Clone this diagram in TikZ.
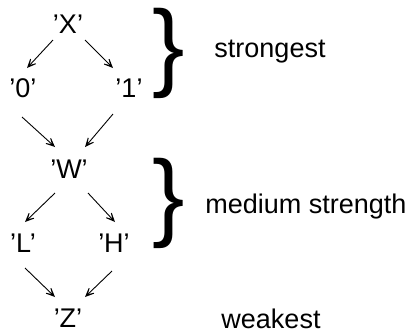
\documentclass[tikz,border=0pt]{standalone}
\usepackage{fontspec}
\setmainfont{Liberation Sans}
\usetikzlibrary{arrows.meta}
\begin{document}
\begin{tikzpicture}[x=1pt,y=-1pt,
  lbl/.style={inner sep=0pt,font=\fontsize{27}{31}\selectfont,anchor=base},
  arr/.style={line width=0.9pt,-{Stealth[open,length=16pt,width=14pt,inset=12pt]}},
  curly/.style={inner sep=0pt,anchor=base west,font=\fontsize{97}{97}\selectfont}]
\useasboundingbox (0,0) rectangle (412,333);
\node[lbl] (X) at (68,33) {’X’};
\node[lbl] (n0) at (23,97) {’0’};
\node[lbl] (n1) at (129,97) {’1’};
\node[lbl] (W) at (69,178) {’W’};
\node[lbl] (L) at (23,252) {’L’};
\node[lbl] (H) at (114,252) {’H’};
\node[lbl] (Z) at (68,327) {’Z’};
\node[lbl] (s) at (270,57) {strongest};
\node[lbl] (m) at (306,213) {medium strength};
\node[lbl] (w) at (271,328) {weakest};
\draw[arr] ([shift={(-15,7)}]X.base) -- ([shift={(4,-29)}]n0.base);
\draw[arr] ([shift={(17,7)}]X.base) -- ([shift={(-16,-29)}]n1.base);
\draw[arr] ([shift={(-1,20)}]n0.base) -- ([shift={(-14,-31)}]W.base);
\draw[arr] ([shift={(-16,17)}]n1.base) -- ([shift={(16,-31)}]W.base);
\draw[arr] ([shift={(-14,15)}]W.base) -- ([shift={(2,-30)}]L.base);
\draw[arr] ([shift={(19,15)}]W.base) -- ([shift={(1,-30)}]H.base);
\draw[arr] ([shift={(2,16)}]L.base) -- ([shift={(-13,-30)}]Z.base);
\draw[arr] ([shift={(-2,19)}]H.base) -- ([shift={(17,-30)}]Z.base);
\node[curly] (b1) at (152,78) {\}};
\node[curly] (b2) at (152,228) {\}};
\end{tikzpicture}
\end{document}
